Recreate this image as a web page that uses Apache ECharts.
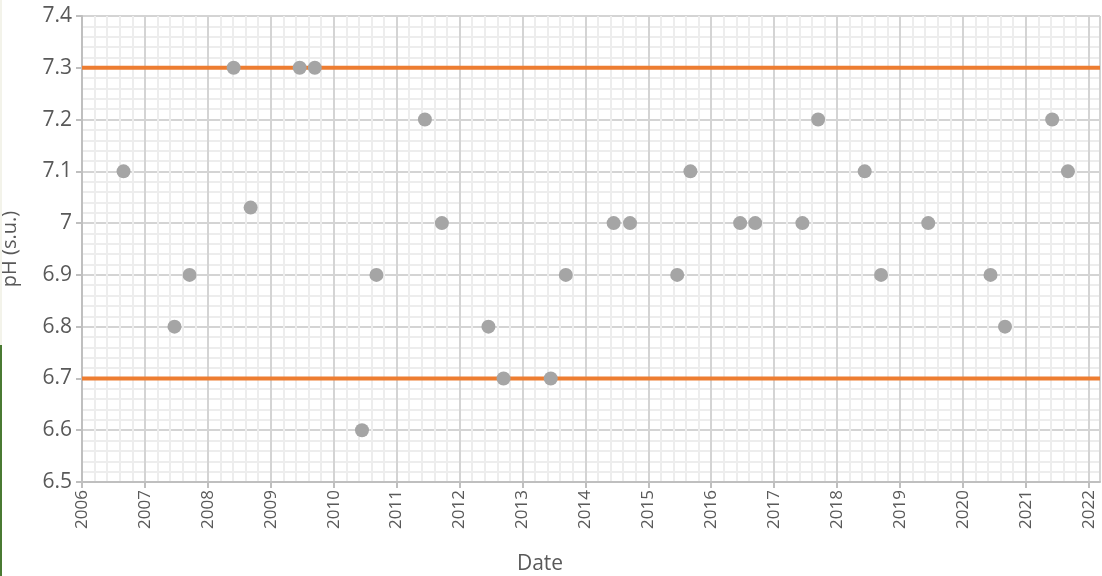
<!DOCTYPE html>
<html><head><meta charset="utf-8">
<script src="https://cdn.jsdelivr.net/npm/echarts@6/dist/echarts.min.js"></script>
<style>html,body{margin:0;padding:0;background:#fff;}#c{width:1102px;height:576px;}
#edge1{position:absolute;left:0;top:0;width:2px;height:345px;background:#f3f3ea;}
#edge2{position:absolute;left:0;top:345px;width:2px;height:231px;background:#4a7a32;}</style>
</head><body><div id="c"></div><div id="edge1"></div><div id="edge2"></div>
<script>
// Sample dates (decimal years) and pH values
const sampleYears = [2006.66, 2007.47, 2007.71, 2008.41, 2008.68, 2009.46, 2009.70, 2010.45, 2010.68, 2011.45,
  2011.72, 2012.46, 2012.70, 2013.45, 2013.69, 2014.45, 2014.71, 2015.46, 2015.67, 2016.46,
  2016.70, 2017.45, 2017.70, 2018.44, 2018.70, 2019.45, 2020.44, 2020.67, 2021.42, 2021.67];
const phValues = [7.1, 6.8, 6.9, 7.3, 7.03, 7.3, 7.3, 6.6, 6.9, 7.2,
  7.0, 6.8, 6.7, 6.7, 6.9, 7.0, 7.0, 6.9, 7.1, 7.0,
  7.0, 7.0, 7.2, 7.1, 6.9, 7.0, 6.9, 6.8, 7.2, 7.1];
const upperLimit = 7.3;
const lowerLimit = 6.7;
const xMin = 2006, xMax = 2022.18;
const yMin = 6.5, yMax = 7.4;

const chart = echarts.init(document.getElementById('c'), null, {renderer: 'canvas'});
const font = '"Open Sans", "Noto Sans", sans-serif';
chart.setOption({
  animation: false,
  grid: {left: 82, right: 2, top: 16, bottom: 94, containLabel: false, outerBoundsMode: 'none'},
  xAxis: {
    type: 'value', min: xMin, max: xMax, interval: 1,
    name: 'Date', nameLocation: 'middle', nameGap: 72,
    nameTextStyle: {fontFamily: font, fontSize: 21, color: '#595959', padding: [0, 102, 0, 0]},
    axisLine: {show: true, onZero: false, lineStyle: {color: '#bfbfbf', width: 2}},
    axisTick: {show: true, length: 6, lineStyle: {color: '#bfbfbf', width: 2}},
    axisLabel: {rotate: 90, fontFamily: font, fontSize: 17, color: '#595959', margin: 8,
      showMaxLabel: false, formatter: v => String(Math.round(v))},
    splitLine: {show: true, lineStyle: {color: '#d4d4d4', width: 2}},
    minorTick: {show: false, splitNumber: 5},
    minorSplitLine: {show: true, lineStyle: {color: '#ededed', width: 2}}
  },
  yAxis: {
    type: 'value', min: yMin, max: yMax, interval: 0.1,
    name: 'pH (s.u.)', nameLocation: 'middle', nameGap: 62,
    nameTextStyle: {fontFamily: font, fontSize: 20, color: '#595959'},
    axisLine: {show: true, lineStyle: {color: '#bfbfbf', width: 2}},
    axisTick: {show: true, length: 6, lineStyle: {color: '#bfbfbf', width: 2}},
    axisLabel: {fontFamily: font, fontSize: 21, color: '#595959', margin: 10,
      formatter: v => { const r = Math.round(v * 10) / 10; return r === 7 ? '7' : r.toFixed(1); }},
    splitLine: {show: true, lineStyle: {color: '#d4d4d4', width: 2}},
    minorTick: {show: false, splitNumber: 5},
    minorSplitLine: {show: true, lineStyle: {color: '#ededed', width: 2}}
  },
  series: [
    {type: 'line', data: [[xMin, upperLimit], [xMax, upperLimit]], symbol: 'none',
      lineStyle: {color: '#ed7d31', width: 4}, z: 2},
    {type: 'line', data: [[xMin, lowerLimit], [xMax, lowerLimit]], symbol: 'none',
      lineStyle: {color: '#ed7d31', width: 4}, z: 2},
    {type: 'scatter', data: sampleYears.map((y, i) => [y, phValues[i]]), symbol: 'circle',
      symbolSize: 14, itemStyle: {color: '#a5a5a5', opacity: 1}, z: 3}
  ]
});
</script></body></html>
